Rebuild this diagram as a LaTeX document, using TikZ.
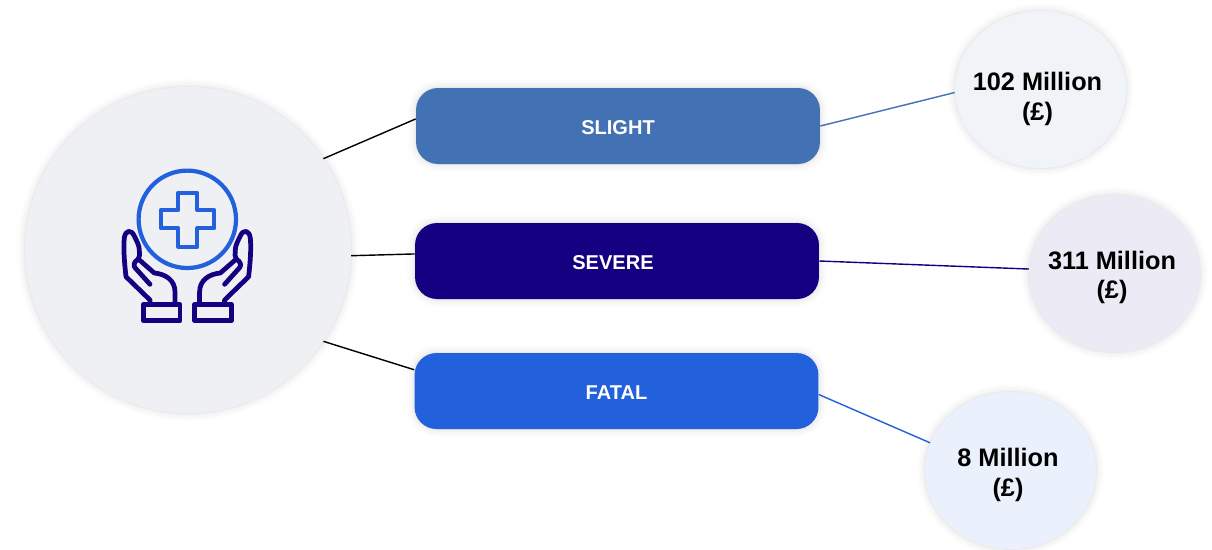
\documentclass[tikz,border=0pt]{standalone}
\usepackage{fontspec}
\setmainfont{Liberation Sans}
\usetikzlibrary{shapes.geometric}

\definecolor{slightcol}{HTML}{4272B4}
\definecolor{severecol}{HTML}{140080}
\definecolor{fatalcol}{HTML}{2260DC}
\definecolor{carefill}{HTML}{EEF0F4}

\tikzset{
  softshadow/.style={
    preaction={draw=black,opacity=.012,line width=9pt},
    preaction={draw=black,opacity=.018,line width=6pt},
    preaction={draw=black,opacity=.025,line width=3pt},
    preaction={draw=black,opacity=.03,line width=1pt}},
  riskbox/.style={rectangle,rounded corners=.44cm,minimum width=8.08cm,
    minimum height=1.52cm,inner sep=0,text=white,softshadow,
    text height=9.4pt,text depth=0pt,
    font=\fontsize{11.4}{13}\selectfont\bfseries},
  costcircle/.style={ellipse,minimum width=3.42cm,minimum height=3.14cm,
    inner sep=0,softshadow},
  costtext/.style={align=center,inner sep=0,
    font=\fontsize{14.4}{17}\selectfont\bfseries},
  link/.style={line width=.8pt},
  icon/.style={line width=2.4pt,line join=round,line cap=round}
}

\begin{document}
\begin{tikzpicture}[x=0.02cm,y=-0.02cm]
  \useasboundingbox (0,0) rectangle (1212,549);

  \node[circle,minimum size=6.52cm,inner sep=0,fill=carefill,softshadow] (care) at (188,250) {};

  \node[riskbox,fill=slightcol] (slight) at (618,126) {SLIGHT};
  \node[riskbox,fill=severecol] (severe) at (617,261) {SEVERE\kern.16cm\relax};
  \node[riskbox,fill=fatalcol] (fatal) at (616.5,391) {FATAL};

  \node[costcircle,fill=slightcol!8!white] (slightcost) at (1040.5,89.5) {};
  \node[costcircle,fill=severecol!8!white] (severecost) at (1114.5,273.5) {};
  \node[costcircle,fill=fatalcol!9!white] (fatalcost) at (1010.5,470.5) {};

  \node[costtext] (slightlabel) at (1037.5,99) {102 Million\\(£)};
  \node[costtext] (severelabel) at (1112,277.5) {311 Million\\(£)};
  \node[costtext] (fatallabel) at (1008,475) {8 Million\\(£)};

  \draw[link,black] (care.34.3) -- (slight.178.85);
  \draw[link,black] (care.-2) -- (severe.178.85);
  \draw[link,black] (care.-34) -- (fatal.174.3);

  \draw[link,slightcol] (slight.0.3) -- (slightcost.182);
  \draw[link,severecol] (severe.-0.6) -- (severecost.177.3);
  \draw[link,fatalcol] (fatal.-1.7) -- (fatalcost.161);

  % the icon
  \draw[icon,fatalcol] (187.3,219.3) circle (48.7);
  \draw[icon,fatalcol] (178.3,192.7) -- (197.3,192.7) -- (197.3,210) -- (214.3,210)
       -- (214.3,228.3) -- (197.3,228.3) -- (197.3,246.7) -- (178.3,246.7)
       -- (178.3,228.3) -- (161,228.3) -- (161,210) -- (178.3,210) -- cycle;
  \foreach \s in {1,-1} {
    \begin{scope}[shift={(187.3,0)},xscale=\s,icon,line width=2.7pt,severecol]
      \draw (-37.3,304) -- (-37.3,300) -- (-61.3,276.7)
            .. controls (-63,262) and (-64,248) .. (-63,238)
            .. controls (-62,230) and (-56,229) .. (-53,236)
            .. controls (-50,242) and (-48,246) .. (-48,250)
            .. controls (-48,254) and (-47,257) .. (-49,259)
            .. controls (-54,262) and (-54,266) .. (-52,268)
            -- (-37.3,284.3);
      \draw (-49,259) -- (-33,273)
            .. controls (-22,274) and (-12.3,280) .. (-12.3,292) -- (-12.3,304);
      \draw (-44,304.5) rectangle (-7.3,320.7);
    \end{scope}
  }
\end{tikzpicture}
\end{document}
